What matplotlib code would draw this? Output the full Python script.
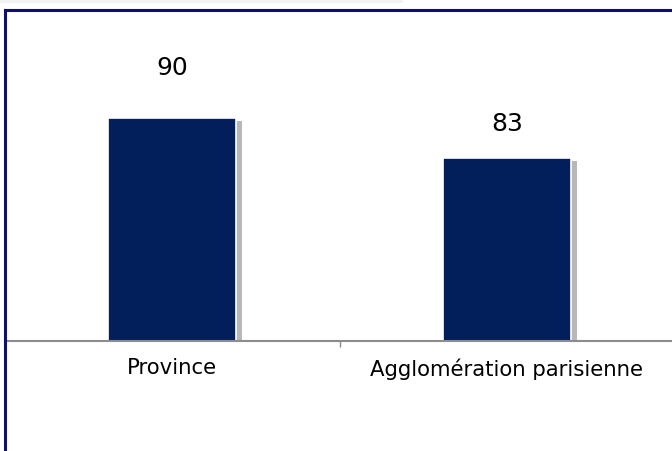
import matplotlib
matplotlib.use("Agg")
import matplotlib.pyplot as plt
import matplotlib.patheffects as pe
from matplotlib.lines import Line2D
from matplotlib.patches import Rectangle

# data
categories = ["Province", "Agglomération parisienne"]
values = [90, 83]
labels = ["90", "83"]

bar_color = "#021F5C"
frame_color = "#10106B"
axis_gray = "#8C8C8C"

fig = plt.figure(figsize=(6.72, 4.51), dpi=100)
fig.patch.set_facecolor("white")

# axes placed so the baseline sits at the same spot as the reference
ax = fig.add_axes([4.5 / 672, 1 - 341 / 451, 670 / 672, 331 / 451])
x = list(range(len(categories)))

bars = ax.bar(x, values, width=0.382, color=bar_color, edgecolor="white",
              linewidth=1.2, zorder=2)
for b in bars:
    b.set_path_effects([pe.SimplePatchShadow(offset=(4, -2), shadow_rgbFace="#9a9a9a", alpha=0.7),
                        pe.Normal()])

ax.set_xlim(-0.5, 1.5)
ax.set_ylim(51, 109)

# value labels above bars (offsets in points)
label_offsets = [36, 25]
for xi, v, lab, off in zip(x, values, labels, label_offsets):
    ax.annotate(lab, (xi, v), xytext=(0, off), textcoords="offset points",
                ha="center", va="center", fontsize=18, color="black")

for s in ["top", "right", "left"]:
    ax.spines[s].set_visible(False)
ax.spines["bottom"].set_color(axis_gray)
ax.spines["bottom"].set_linewidth(1.5)
ax.spines["bottom"].set_zorder(3)

ax.set_yticks([])
ax.set_xticks(x)
ax.set_xticklabels(categories, fontsize=15.3)
ax.tick_params(axis="x", which="major", length=0, pad=12.5)
ax.set_xticks([0.5], minor=True)
ax.tick_params(axis="x", which="minor", length=4.5, width=1, color=axis_gray, direction="out")

# outer frame (left and top edges visible)
fig.add_artist(Line2D([4.5 / 672, 4.5 / 672], [0, 1 - 10 / 451], transform=fig.transFigure,
                      color=frame_color, linewidth=2.2, solid_capstyle="projecting"))
fig.add_artist(Line2D([4.5 / 672, 1], [1 - 10 / 451, 1 - 10 / 451], transform=fig.transFigure,
                      color=frame_color, linewidth=2.2, solid_capstyle="projecting"))
fig.add_artist(Rectangle((0, 1 - 3 / 451), 403 / 672, 3 / 451, transform=fig.transFigure,
                         facecolor="#F2F2F2", edgecolor="none"))

fig.savefig("out.png", dpi=100)
